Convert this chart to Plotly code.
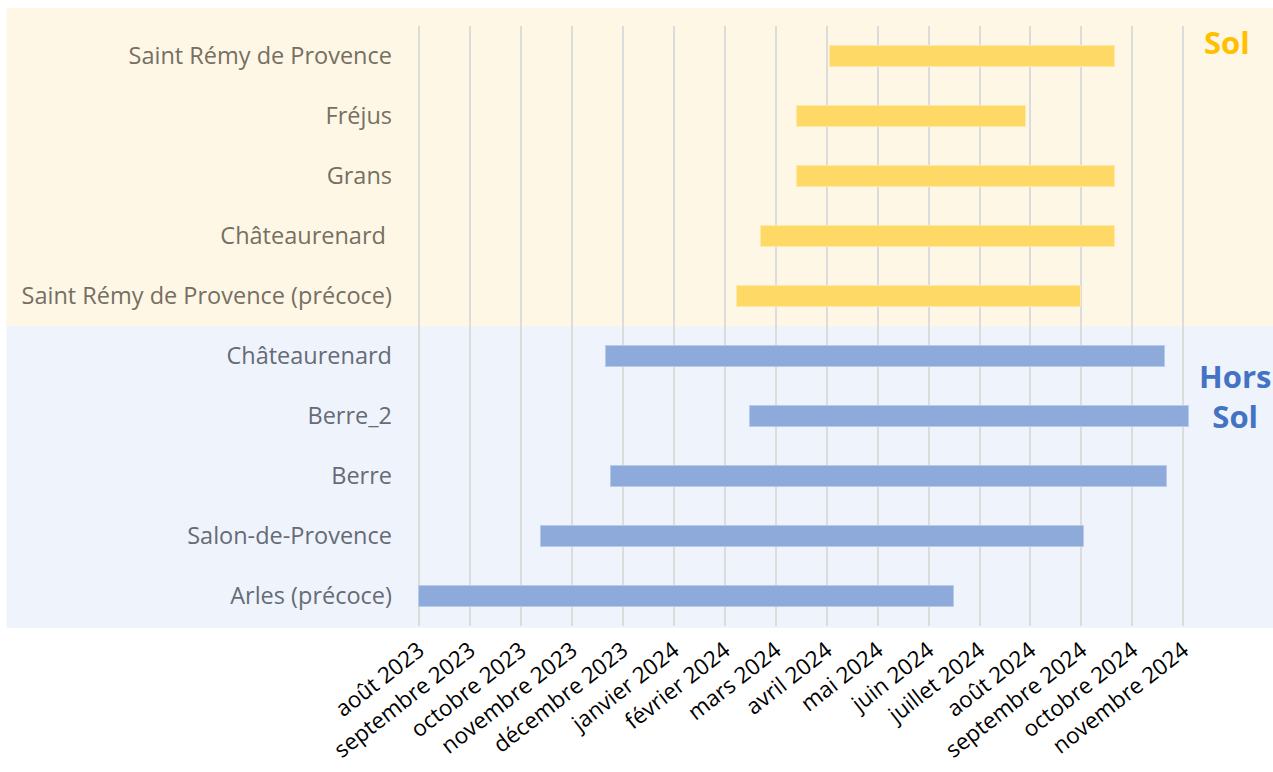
import plotly.graph_objects as go

# Month axis: 0 = août 2023 ... 15 = novembre 2024 (positions in months)
month_labels = [
    "août 2023", "septembre 2023", "octobre 2023", "novembre 2023",
    "décembre 2023", "janvier 2024", "février 2024", "mars 2024",
    "avril 2024", "mai 2024", "juin 2024", "juillet 2024",
    "août 2024", "septembre 2024", "octobre 2024", "novembre 2024",
]

# "Sol" sites, top to bottom
sol_sites = ["Saint Rémy de Provence", "Fréjus", "Grans", "Châteaurenard ",
             "Saint Rémy de Provence (précoce)"]
sol_start = [8.06, 7.42, 7.42, 6.72, 6.24]
sol_end = [13.66, 11.92, 13.66, 13.66, 13.00]

# "Hors Sol" sites, top to bottom
hs_sites = ["Châteaurenard", "Berre_2", "Berre", "Salon-de-Provence", "Arles (précoce)"]
hs_start = [3.67, 6.49, 3.76, 2.39, 0.00]
hs_end = [14.64, 15.12, 14.68, 13.06, 10.50]

FONT = "Open Sans"
SOL_COLOR = "#FFD966"
HS_COLOR = "#8EAADB"

n_sol = len(sol_sites)
n_hs = len(hs_sites)
n = n_sol + n_hs
# row positions: top row has the highest y
sol_y = [n - 1 - i for i in range(n_sol)]
hs_y = [n_hs - 1 - i for i in range(n_hs)]

fig = go.Figure()
fig.add_trace(go.Bar(
    y=sol_y, x=[e - s for s, e in zip(sol_start, sol_end)], base=sol_start,
    orientation="h", width=0.35,
    marker=dict(color=SOL_COLOR, line=dict(color="#FFE9A8", width=1)),
    showlegend=False, hoverinfo="skip",
))
fig.add_trace(go.Bar(
    y=hs_y, x=[e - s for s, e in zip(hs_start, hs_end)], base=hs_start,
    orientation="h", width=0.35,
    marker=dict(color=HS_COLOR, line=dict(color="#B8CAEA", width=1)),
    showlegend=False, hoverinfo="skip",
))

tickvals_y = sol_y + hs_y
ticktext_y = ([f'<span style="color:#766F62">{s}</span>' for s in sol_sites]
              + [f'<span style="color:#666B76">{s}</span>' for s in hs_sites])

fig.update_layout(
    width=1273, height=772,
    margin=dict(l=418, r=0, t=26, b=146),
    paper_bgcolor="white",
    plot_bgcolor="rgba(0,0,0,0)",
    bargap=0,
    font=dict(family=FONT, size=23, color="#000000"),
    xaxis=dict(
        range=[-0.02, 16.76],
        tickmode="array",
        tickvals=list(range(len(month_labels))),
        ticktext=month_labels,
        tickangle=-38,
        showgrid=True, gridcolor="#DCDCDC", gridwidth=1.5,
        zeroline=False, showline=False, ticks="",
        tickfont=dict(family=FONT, size=22.5, color="#000000"),
        automargin=False,
        ticklabelstandoff=6,
    ),
    yaxis=dict(
        range=[-0.5, n - 0.5],
        tickmode="array",
        tickvals=tickvals_y,
        ticktext=ticktext_y,
        showgrid=False, zeroline=False, showline=False, ticks="",
        tickfont=dict(family=FONT, size=23.5),
        automargin=False,
        ticklabelstandoff=25,
    ),
    shapes=[
        dict(type="rect", xref="paper", yref="paper",
             x0=-0.4813, x1=1.0, y0=0.5, y1=1.03,
             fillcolor="#FEF7E6", line=dict(width=0), layer="below"),
        dict(type="rect", xref="paper", yref="paper",
             x0=-0.4813, x1=1.0, y0=-0.0035, y1=0.5,
             fillcolor="#EFF4FC", line=dict(width=0), layer="below"),
    ],
    annotations=[
        dict(text="<b>Sol</b>", xref="paper", yref="paper", x=0.946, y=0.973,
             showarrow=False, xanchor="center", yanchor="middle",
             font=dict(family=FONT, size=31, color="#FFC000")),
        dict(text="<b>Hors<br>Sol</b>", xref="paper", yref="paper", x=0.955, y=0.383,
             showarrow=False, xanchor="center", yanchor="middle",
             font=dict(family=FONT, size=31, color="#4472C4")),
    ],
)

fig.write_html("out.html")
